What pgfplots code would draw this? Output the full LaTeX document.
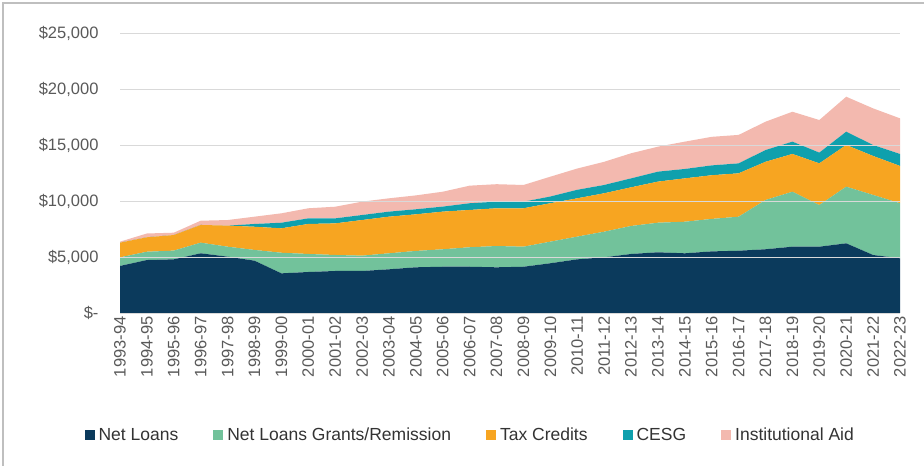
\documentclass[border=0pt]{standalone}
\usepackage{fontspec}
\setmainfont{Liberation Sans}
\usepackage{pgfplots}
\usepackage{pgfplotstable}
\pgfplotsset{compat=1.18}
\definecolor{navy}{HTML}{0B3A5C}
\definecolor{mint}{HTML}{72C29B}
\definecolor{orng}{HTML}{F7A521}
\definecolor{tealc}{HTML}{0FA0AD}
\definecolor{pinkc}{HTML}{F3B9AF}
\definecolor{txt}{HTML}{595959}
\pgfplotstableread{
x nl gr tc ce ia
0 4200 770 1310 0 90
1 4730 740 1290 0 340
2 4790 780 1390 0 210
3 5330 950 1580 0 380
4 5030 890 1880 0 500
5 4670 960 2070 250 650
6 3540 1840 2180 500 840
7 3660 1610 2680 500 900
8 3750 1430 2820 450 1040
9 3750 1370 3180 450 1190
10 3900 1430 3270 450 1190
11 4080 1460 3270 450 1240
12 4130 1560 3360 450 1330
13 4130 1740 3330 600 1570
14 4080 1900 3370 590 1560
15 4130 1790 3430 590 1490
16 4440 1930 3430 600 1770
17 4790 2030 3420 760 1900
18 4970 2290 3430 740 2070
19 5270 2500 3450 800 2240
20 5420 2640 3670 890 2230
21 5330 2820 3870 840 2440
22 5500 2900 3900 880 2550
23 5560 3040 3870 890 2540
24 5690 4400 3410 1050 2530
25 5920 4910 3370 1100 2670
26 5920 3720 3720 960 2910
27 6220 5060 3720 1190 3120
28 5180 5360 3480 980 3270
29 4880 4920 3330 1070 3180
}\data
\begin{document}
\begin{tikzpicture}[x=1pt,y=1pt]
\path[use as bounding box] (0,0) rectangle (924,466);
\draw[black!25, line width=1.2pt] (3,0) -- (3,463) -- (924,463);
\begin{axis}[
  at={(120pt,153pt)}, anchor=south west,
  scale only axis, width=780pt, height=280pt,
  xmin=0, xmax=29, ymin=0, ymax=25000,
  stack plots=y, area style,
  axis line style={draw=none},
  major tick length=0pt,
  scaled y ticks=false,
  ymajorgrids, grid style={black!15, line width=0.9pt},
  ytick={0,5000,10000,15000,20000,25000},
  yticklabels={{\$-},{\$5,000},{\$10,000},{\$15,000},{\$20,000},{\$25,000}},
  yticklabel style={font=\fontsize{16.5}{18}\selectfont, text=txt, anchor=east, xshift=-18pt},
  xtick={0,...,29},
  xticklabels={1993-94,1994-95,1995-96,1996-97,1997-98,1998-99,1999-00,2000-01,2001-02,2002-03,2003-04,2004-05,2005-06,2006-07,2007-08,2008-09,2009-10,2010-11,2011-12,2012-13,2013-14,2014-15,2015-16,2016-17,2017-18,2018-19,2019-20,2020-21,2021-22,2022-23},
  xticklabel style={font=\fontsize{16.5}{18}\selectfont, text=txt, rotate=90, anchor=east},
  legend columns=5,
  legend style={at={(0.449,-0.436)}, anchor=center, draw=none, fill=none,
    font=\fontsize{17.5}{20}\selectfont, text=black!80,
    /tikz/every odd column/.append style={column sep=2pt},
    /tikz/every even column/.append style={column sep=33pt}},
  legend image code/.code={\fill[#1] (0pt,-5pt) rectangle (10pt,5pt);},
]
\addplot[fill=navy, draw=none] table[x=x, y=nl] {\data} \closedcycle;
\addlegendentry{Net Loans}
\addplot[fill=mint, draw=none] table[x=x, y=gr] {\data} \closedcycle;
\addlegendentry{Net Loans Grants/Remission}
\addplot[fill=orng, draw=none] table[x=x, y=tc] {\data} \closedcycle;
\addlegendentry{Tax Credits}
\addplot[fill=tealc, draw=none] table[x=x, y=ce] {\data} \closedcycle;
\addlegendentry{CESG}
\addplot[fill=pinkc, draw=none] table[x=x, y=ia] {\data} \closedcycle;
\addlegendentry{Institutional Aid}
\end{axis}
\end{tikzpicture}
\end{document}
